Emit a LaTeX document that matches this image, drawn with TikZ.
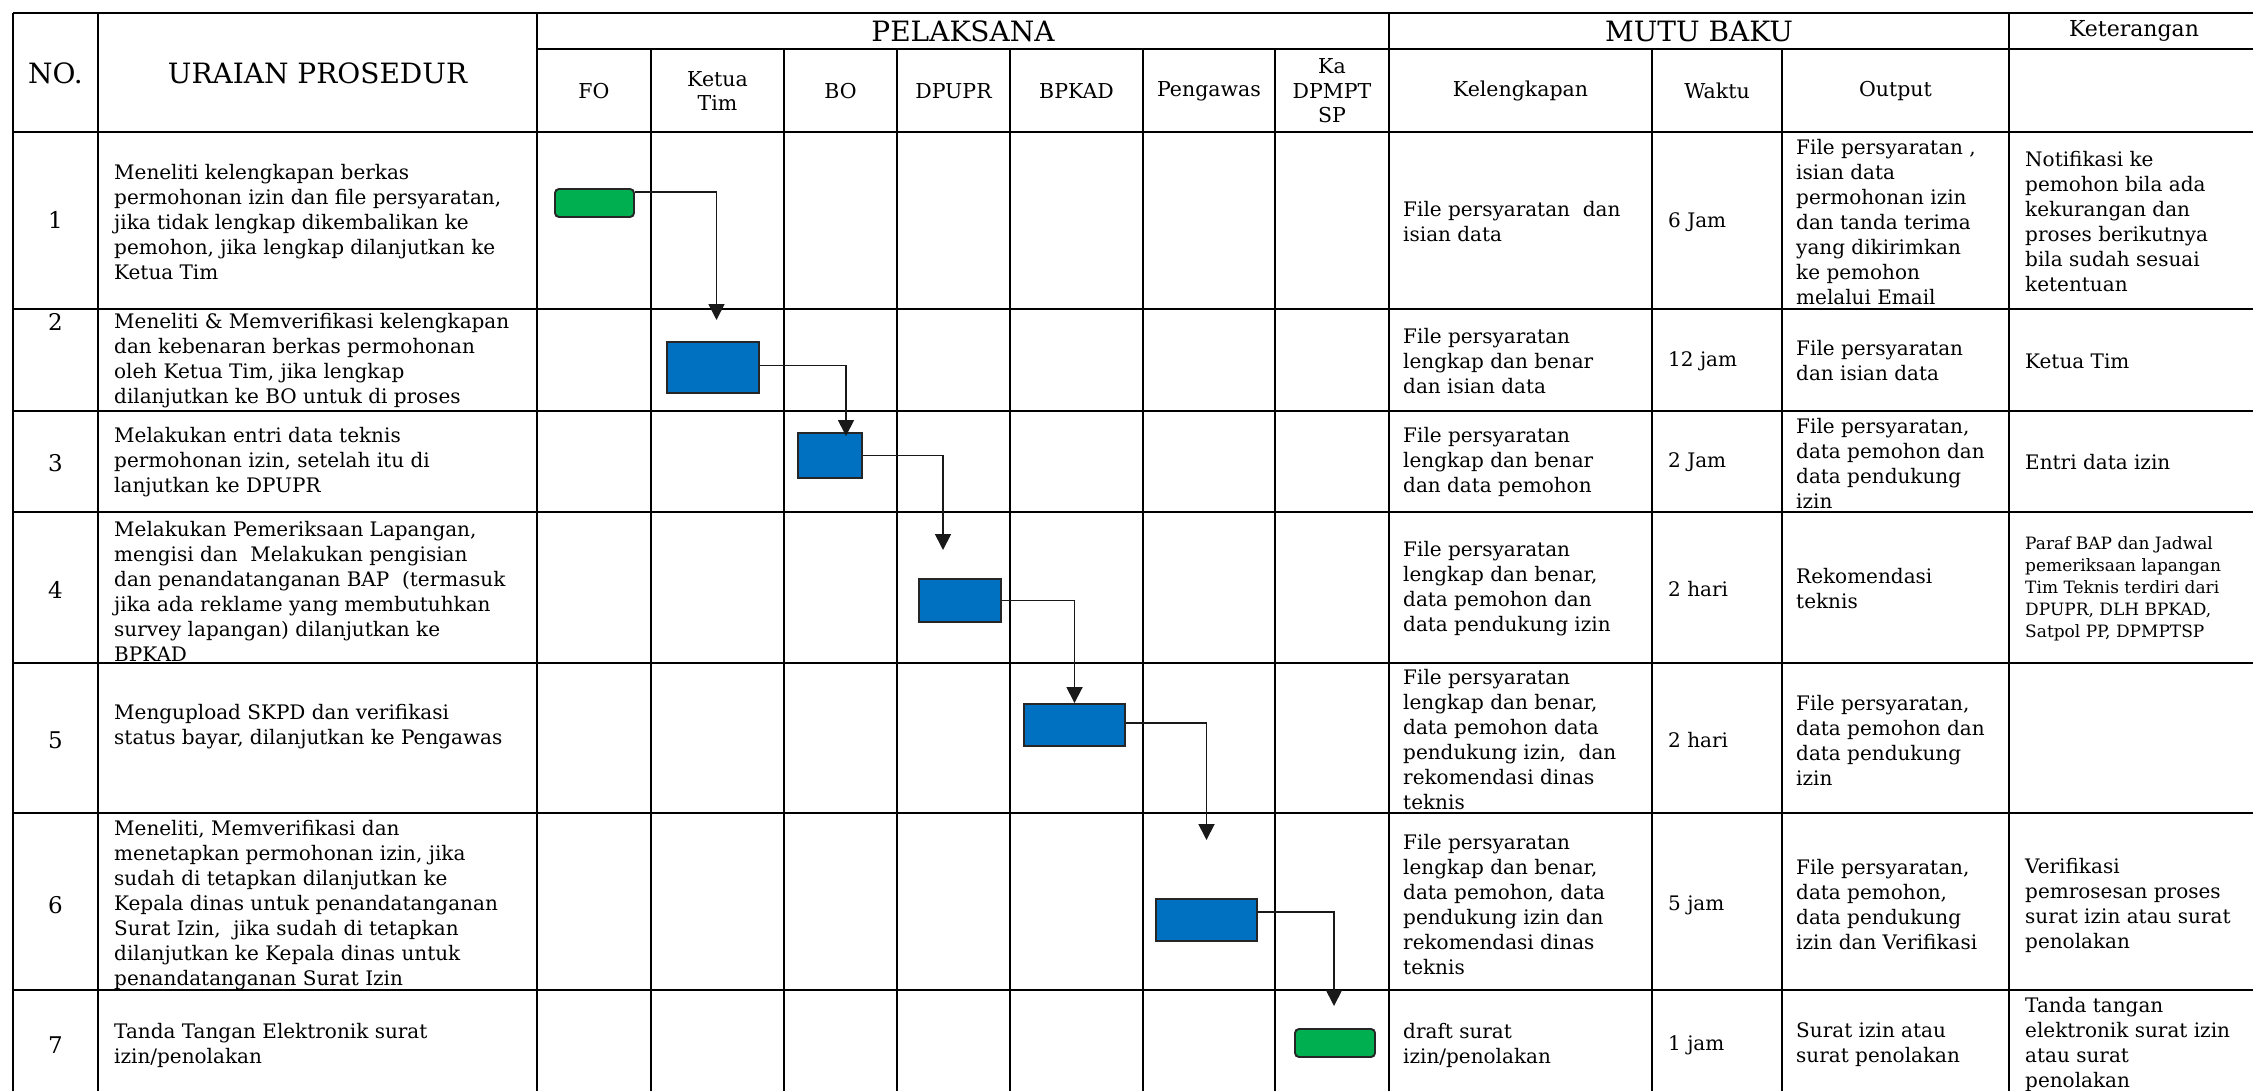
\documentclass[tikz,border=0pt]{standalone}
\usepackage{fontspec}
\setmainfont{DejaVu Serif}
\usetikzlibrary{arrows.meta}
\definecolor{boxblue}{HTML}{0070C0}
\definecolor{boxgreen}{HTML}{00B050}

\begin{document}
\begin{tikzpicture}[x=1pt, y=-1pt,
    grid/.style={black, line width=2.7pt},
    bluebox/.style={draw=black!85, line width=1.9pt, fill=boxblue, inner sep=0pt},
    greenbox/.style={draw=black!85, line width=1.9pt, fill=boxgreen, rounded corners=4pt, inner sep=0pt},
    flow/.style={draw=black!90, line width=1.8pt, -{Triangle[length=16pt,width=16pt]}},
    cell/.style={anchor=west, align=left, inner sep=0pt, font=\fontsize{20}{25}\selectfont},
    small/.style={anchor=west, align=left, inner sep=0pt, font=\fontsize{17}{22}\selectfont},
    head/.style={align=center, inner sep=0pt, font=\fontsize{20.5}{24.5}\selectfont},
    num/.style={inner sep=0pt, font=\fontsize{23}{26}\selectfont},
    title/.style={inner sep=0pt, font=\fontsize{28}{32}\selectfont}]
    \useasboundingbox (0,0) rectangle (2253,1091);
    \fill[white] (0,0) rectangle (2253,1091);
    \draw[grid] (13,13) -- (2253,13);
    \draw[grid] (537,49) -- (2253,49);
    \draw[grid] (13,132) -- (2253,132);
    \draw[grid] (13,309) -- (2253,309);
    \draw[grid] (13,411) -- (2253,411);
    \draw[grid] (13,512) -- (2253,512);
    \draw[grid] (13,663) -- (2253,663);
    \draw[grid] (13,813) -- (2253,813);
    \draw[grid] (13,990) -- (2253,990);
    \draw[grid] (13,13) -- (13,1091);
    \draw[grid] (98,13) -- (98,1091);
    \draw[grid] (537,13) -- (537,1091);
    \draw[grid] (651,49) -- (651,1091);
    \draw[grid] (784,49) -- (784,1091);
    \draw[grid] (897,49) -- (897,1091);
    \draw[grid] (1010,49) -- (1010,1091);
    \draw[grid] (1143,49) -- (1143,1091);
    \draw[grid] (1275,49) -- (1275,1091);
    \draw[grid] (1389,13) -- (1389,1091);
    \draw[grid] (1652,49) -- (1652,1091);
    \draw[grid] (1782,49) -- (1782,1091);
    \draw[grid] (2009,13) -- (2009,1091);
    \node[title] (tno) at (55.5,73) {NO.};
    \node[title] (turaian) at (317.5,73) {URAIAN PROSEDUR};
    \node[title] (tpelaksana) at (963,31) {PELAKSANA};
    \node[title] (tmutu) at (1699,31) {MUTU BAKU};
    \node[title, font=\fontsize{22}{26}\selectfont] (tket) at (2134,31) {Keterangan};
    \node[head] (hfo) at (594,91) {FO};
    \node[head] (hketua) at (717.5,91) {Ketua\\Tim};
    \node[head] (hbo) at (840.5,91) {BO};
    \node[head] (hdpupr) at (953.5,91) {DPUPR};
    \node[head] (hbpkad) at (1076.5,91) {BPKAD};
    \node[head] (hpengawas) at (1209,91) {Pengawas};
    \node[head] (hkadinas) at (1332,91) {Ka\\DPMPT\\SP};
    \node[head] (hkel) at (1520.5,91) {Kelengkapan};
    \node[head] (hwaktu) at (1717,91) {Waktu};
    \node[head] (houtput) at (1895.5,91) {Output};
    \node[greenbox, minimum width=79pt, minimum height=28pt] (fo) at (594.5,203) {};
    \node[bluebox, minimum width=92pt, minimum height=51pt] (ketua) at (713,367.5) {};
    \node[bluebox, minimum width=64pt, minimum height=45pt] (bo) at (830,455.5) {};
    \node[bluebox, minimum width=82pt, minimum height=43pt] (dpupr) at (960,600.5) {};
    \node[bluebox, minimum width=101pt, minimum height=42pt] (bpkad) at (1074.5,725) {};
    \node[bluebox, minimum width=101pt, minimum height=42pt] (pengawas) at (1206.5,920) {};
    \node[greenbox, minimum width=80pt, minimum height=28pt] (kadinas) at (1335,1043) {};
    \coordinate (t1) at (716.5,320);
    \coordinate (t2) at (846,436);
    \coordinate (t3) at (943,550);
    \coordinate (t5) at (1206.5,840);
    \coordinate (t6) at (1334,1006);
    \draw[flow] ([yshift=-4pt]fo.north east) -| (t1);
    \draw[flow] ([yshift=2pt]ketua.east) -| (t2);
    \draw[flow] (bo.east) -| (t3);
    \draw[flow] (dpupr.east) -| (bpkad.north);
    \draw[flow] ([yshift=2pt]bpkad.east) -| (t5);
    \draw[flow] ([yshift=8pt]pengawas.east) -| (t6);
    \node[num] (n1) at (55.5,220) {1};
    \node[num] (n2) at (55.5,322) {2};
    \node[num] (n3) at (55.5,463) {3};
    \node[num] (n4) at (55.5,590) {4};
    \node[num] (n5) at (55.5,740) {5};
    \node[num] (n6) at (55.5,905) {6};
    \node[num] (n7) at (55.5,1045) {7};
    \node[cell] (u1) at (114,222) {Meneliti kelengkapan berkas\\permohonan izin dan file persyaratan,\\jika tidak lengkap dikembalikan ke\\pemohon, jika lengkap dilanjutkan ke\\Ketua Tim};
    \node[cell] (u2) at (114,361) {Meneliti \& Memverifikasi kelengkapan\\dan kebenaran berkas permohonan\\oleh Ketua Tim, jika lengkap\\dilanjutkan ke BO untuk di proses};
    \node[cell] (u3) at (114,462) {Melakukan entri data teknis\\permohonan izin, setelah itu di\\lanjutkan ke DPUPR};
    \node[cell] (u4) at (114,591) {Melakukan Pemeriksaan Lapangan,\\mengisi dan\ \ Melakukan pengisian\\dan penandatanganan BAP\ \ (termasuk\\jika ada reklame yang membutuhkan\\survey lapangan) dilanjutkan ke\\BPKAD};
    \node[cell] (u5) at (114,727) {Mengupload SKPD dan verifikasi\\status bayar, dilanjutkan ke Pengawas};
    \node[cell] (u6) at (114,905) {Meneliti, Memverifikasi dan\\menetapkan permohonan izin, jika\\sudah di tetapkan dilanjutkan ke\\Kepala dinas untuk penandatanganan\\Surat Izin,\ \ jika sudah di tetapkan\\dilanjutkan ke Kepala dinas untuk\\penandatanganan Surat Izin};
    \node[cell] (u7) at (114,1045) {Tanda Tangan Elektronik surat\\izin/penolakan};
    \node[cell] (k1) at (1403,222) {File persyaratan\ \ dan\\isian data};
    \node[cell] (k2) at (1403,361) {File persyaratan\\lengkap dan benar\\dan isian data};
    \node[cell] (k3) at (1403,462) {File persyaratan\\lengkap dan benar\\dan data pemohon};
    \node[cell] (k4) at (1403,589) {File persyaratan\\lengkap dan benar,\\data pemohon dan\\data pendukung izin};
    \node[cell] (k5) at (1403,740) {File persyaratan\\lengkap dan benar,\\data pemohon data\\pendukung izin,\ \ dan\\rekomendasi dinas\\teknis};
    \node[cell] (k6) at (1403,905) {File persyaratan\\lengkap dan benar,\\data pemohon, data\\pendukung izin dan\\rekomendasi dinas\\teknis};
    \node[cell] (k7) at (1403,1045) {draft surat\\izin/penolakan};
    \node[cell] (w1) at (1668,222) {6 Jam};
    \node[cell] (w2) at (1668,361) {12 jam};
    \node[cell] (w3) at (1668,462) {2 Jam};
    \node[cell] (w4) at (1668,589) {2 hari};
    \node[cell] (w5) at (1668,740) {2 hari};
    \node[cell] (w6) at (1668,905) {5 jam};
    \node[cell] (w7) at (1668,1045) {1 jam};
    \node[cell] (o1) at (1796,222) {File persyaratan ,\\isian data\\permohonan izin\\dan tanda terima\\yang dikirimkan\\ke pemohon\\melalui Email};
    \node[cell] (o2) at (1796,361) {File persyaratan\\dan isian data};
    \node[cell] (o3) at (1796,463) {File persyaratan,\\data pemohon dan\\data pendukung\\izin};
    \node[cell] (o4) at (1796,589) {Rekomendasi\\teknis};
    \node[cell] (o5) at (1796,740) {File persyaratan,\\data pemohon dan\\data pendukung\\izin};
    \node[cell] (o6) at (1796,905) {File persyaratan,\\data pemohon,\\data pendukung\\izin dan Verifikasi};
    \node[cell] (o7) at (1796,1045) {Surat izin atau\\surat penolakan};
    \node[cell] (e1) at (2025,222) {Notifikasi ke\\pemohon bila ada\\kekurangan dan\\proses berikutnya\\bila sudah sesuai\\ketentuan};
    \node[cell] (e2) at (2025,361) {Ketua Tim};
    \node[cell] (e3) at (2025,462) {Entri data izin};
    \node[small] (e4) at (2025,589) {Paraf BAP dan Jadwal\\pemeriksaan lapangan\\Tim Teknis terdiri dari\\DPUPR, DLH BPKAD,\\Satpol PP, DPMPTSP};
    \node[cell] (e6) at (2025,905) {Verifikasi\\pemrosesan proses\\surat izin atau surat\\penolakan};
    \node[cell] (e7) at (2025,1044) {Tanda tangan\\elektronik surat izin\\atau surat\\penolakan};
\end{tikzpicture}
\end{document}
